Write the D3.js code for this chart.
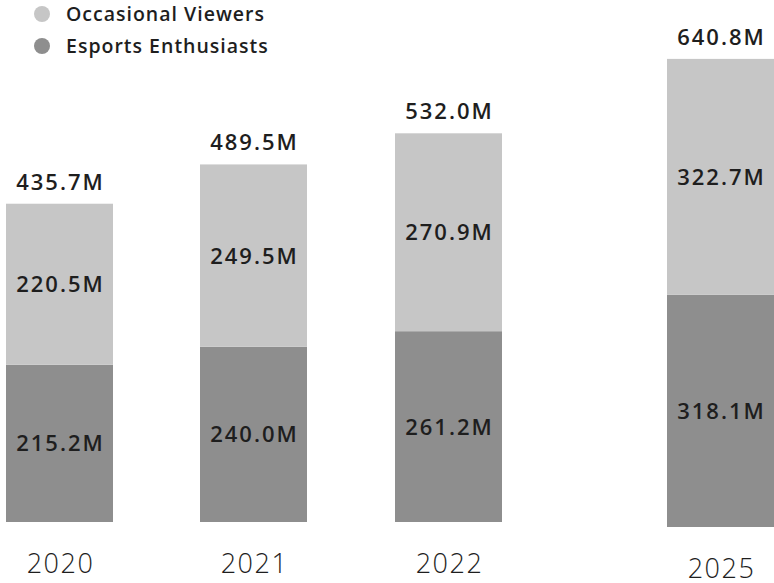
<!DOCTYPE html>
<html>
<head>
<meta charset="utf-8">
<script src="https://cdn.jsdelivr.net/npm/d3@7/dist/d3.min.js"></script>
<style>
  html, body { margin: 0; padding: 0; background: #fff; }
  svg { display: block; font-family: "Open Sans", sans-serif; }
</style>
</head>
<body>
<svg width="774" height="583"></svg>
<script>
const years = ['2020', '2021', '2022', '2025']
const enthusiasts = [215.2, 240.0, 261.2, 318.1]
const occasional = [220.5, 249.5, 270.9, 322.7]
const totals = [435.7, 489.5, 532.0, 640.8]
const seriesNames = ['Occasional Viewers', 'Esports Enthusiasts']

const colors = { occ: '#c6c6c6', ent: '#8e8e8e', text: '#1e1e1e' }
const svg = d3.select('svg')

// bar left edges are not evenly spaced (2023-24 are skipped), so map each year
const x = d3.scaleOrdinal().domain(years).range([6, 200, 395, 667])
const barWidth = 107
// the 2025 bar sits a little lower than the others
const shift = d3.scaleOrdinal().domain(years).range([0, 0, 0, 5])
const y = d3.scaleLinear().domain([0, 700]).range([522, 522 - 700 * 0.7305])

const fmt = (v) => d3.format('.1f')(v) + 'M'

const data = years.map((yr, i) => ({
  year: yr,
  ent: enthusiasts[i],
  occ: occasional[i],
  total: totals[i]
}))

const bars = svg.append('g')
  .selectAll('g')
  .data(data)
  .join('g')
  .attr('transform', (d) => `translate(${x(d.year)},${shift(d.year)})`)

// dark segment
bars.append('rect')
  .attr('x', 0)
  .attr('width', barWidth)
  .attr('y', (d) => y(d.ent))
  .attr('height', (d) => y(0) - y(d.ent))
  .attr('fill', colors.ent)

// light segment on top
bars.append('rect')
  .attr('x', 0)
  .attr('width', barWidth)
  .attr('y', (d) => y(d.ent + d.occ))
  .attr('height', (d) => y(d.ent) - y(d.ent + d.occ))
  .attr('fill', colors.occ)

const label = (sel) => sel
  .attr('x', barWidth / 2 + 1)
  .attr('text-anchor', 'middle')
  .attr('fill', colors.text)
  .attr('font-size', 22)
  .attr('font-weight', 600)
  .attr('letter-spacing', 2)

bars.append('text').call(label)
  .attr('y', (d) => (y(0) + y(d.ent)) / 2 + 8)
  .text((d) => fmt(d.ent))

bars.append('text').call(label)
  .attr('y', (d) => (y(d.ent) + y(d.ent + d.occ)) / 2 + 8)
  .text((d) => fmt(d.occ))

bars.append('text').call(label)
  .attr('y', (d) => y(d.total) - 14)
  .text((d) => fmt(d.total))

// year labels
bars.append('text')
  .attr('x', barWidth / 2 + 1)
  .attr('y', 573)
  .attr('text-anchor', 'middle')
  .attr('fill', colors.text)
  .attr('font-size', 27)
  .attr('font-weight', 300)
  .attr('letter-spacing', 1.5)
  .text((d) => d.year)

// legend
const legend = svg.append('g')
  .selectAll('g')
  .data(seriesNames)
  .join('g')
  .attr('transform', (d, i) => `translate(42,${14 + i * 32})`)

legend.append('circle')
  .attr('r', 8)
  .attr('fill', (d, i) => (i === 0 ? colors.occ : colors.ent))

legend.append('text')
  .attr('x', 24)
  .attr('y', 7)
  .attr('fill', colors.text)
  .attr('font-size', 19.5)
  .attr('font-weight', 600)
  .attr('letter-spacing', 1)
  .text((d) => d)
</script>
</body>
</html>
